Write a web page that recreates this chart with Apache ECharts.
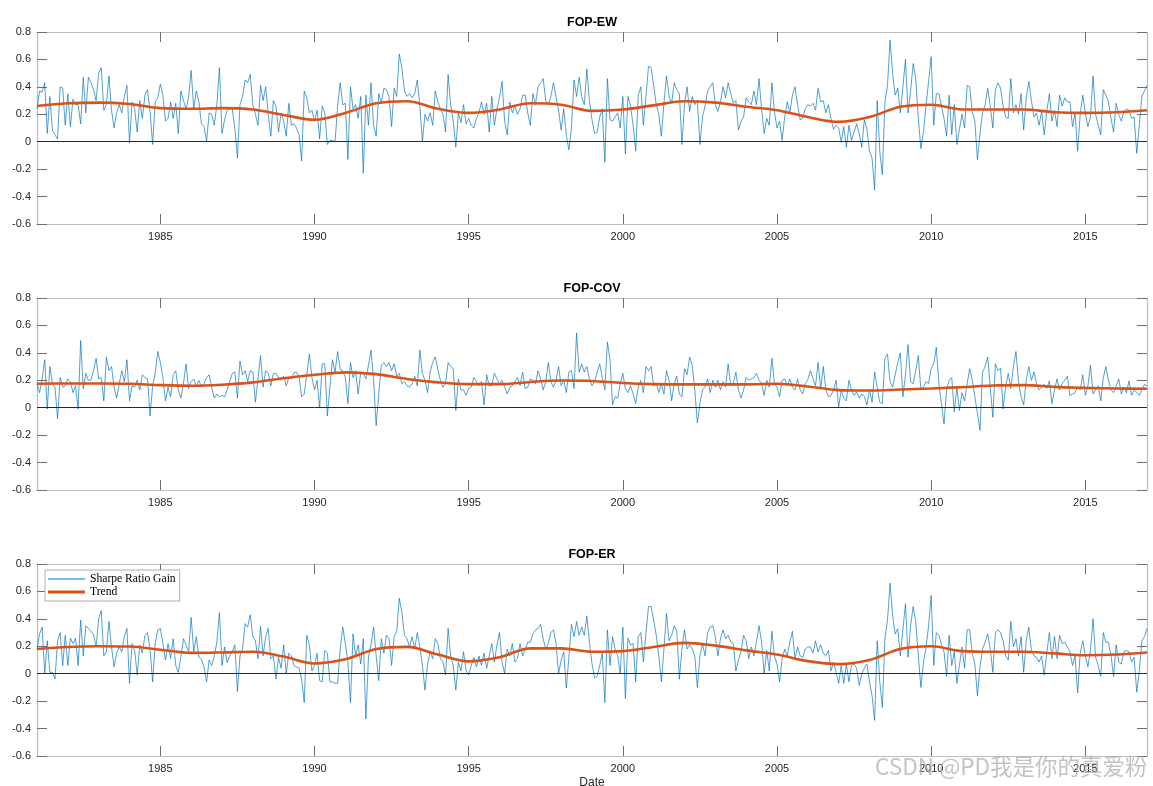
<!DOCTYPE html>
<html><head><meta charset="utf-8">
<script src="https://cdn.jsdelivr.net/npm/echarts@6/dist/echarts.min.js"></script>
<style>html,body{margin:0;padding:0;background:#fff}#c{width:1153px;height:786px}</style>
</head><body><div id="c"></div><script>
// ---- data (monthly values from Jan 1981 to Jan 2017) ----
const startYear = 1981;
const endYear = 2017;
const panelTitles = ['FOP-EW', 'FOP-COV', 'FOP-ER'];
const xTickLabels = [1985, 1990, 1995, 2000, 2005, 2010, 2015];
const seriesNames = ['Sharpe Ratio Gain', 'Trend'];

const ewGain = [
 0.24,0.37,0.36,0.43,0.06,0.33,0.085,0.05,0.02,0.40,0.39,0.12,
 0.35,0.11,0.31,0.27,0.27,0.13,0.47,0.21,0.47,0.43,0.38,0.30,
 0.50,0.54,0.23,0.27,0.48,0.23,0.10,0.21,0.27,0.21,0.33,0.41,
 -0.01,0.29,0.24,0.07,0.30,0.17,0.34,0.38,0.22,-0.02,0.29,0.32,
 0.42,0.34,0.15,0.17,0.29,0.17,0.28,0.06,0.37,0.30,0.24,0.32,
 0.52,0.24,0.37,0.29,0.13,0.11,0.00,0.21,0.20,0.12,0.27,0.54,
 0.06,0.16,0.23,0.24,0.24,0.10,-0.12,0.27,0.33,0.45,0.43,0.49,
 0.27,0.20,0.12,0.41,0.30,0.40,0.20,0.04,0.30,0.26,0.07,0.21,
 0.15,0.04,0.28,0.12,0.13,0.10,0.05,-0.14,0.37,0.32,0.21,0.23,
 0.15,0.23,0.02,0.26,0.21,-0.02,0.01,0.01,0.00,0.26,0.43,0.27,
 0.28,-0.13,0.40,0.24,0.27,0.17,0.33,-0.23,0.34,0.12,0.43,0.12,
 0.04,0.35,0.28,0.39,0.38,0.33,0.11,0.39,0.33,0.64,0.54,0.37,
 0.33,0.35,0.32,0.35,0.45,0.26,0.00,0.20,0.15,0.21,0.12,0.37,
 0.29,0.24,0.20,0.07,0.49,0.27,0.15,-0.04,0.21,0.14,0.27,0.13,
 0.17,0.12,0.10,0.17,0.21,0.29,0.20,0.28,0.07,0.33,0.12,0.24,
 0.32,0.44,0.15,0.05,0.29,0.21,0.26,0.20,0.24,0.34,0.34,0.21,
 0.12,0.35,0.27,0.40,0.43,0.46,0.30,0.27,0.33,0.43,0.33,0.23,
 0.085,0.24,0.05,-0.06,0.10,0.45,0.33,0.47,0.33,0.27,0.53,0.30,
 0.16,0.06,0.07,0.18,0.24,-0.15,0.46,0.16,0.15,0.18,0.21,0.10,
 0.33,-0.09,0.33,0.26,0.12,-0.07,0.34,0.40,0.12,0.33,0.55,0.54,
 0.41,0.27,0.20,0.04,0.28,0.48,0.33,0.28,0.43,0.38,0.35,-0.02,
 0.27,0.40,0.22,0.33,0.27,0.30,-0.02,0.18,0.26,0.37,0.40,0.43,
 0.27,0.22,0.29,0.40,0.32,0.43,0.35,0.28,0.30,0.085,0.15,0.18,
 0.32,0.29,0.27,0.37,0.27,0.46,0.24,0.06,0.17,0.12,0.43,0.22,
 0.10,0.15,0.01,0.18,0.29,0.21,0.34,0.40,0.27,0.16,0.17,0.24,
 0.27,0.26,0.28,0.23,0.39,0.29,0.30,0.21,0.27,0.17,0.09,0.12,
 0.10,-0.005,0.11,-0.04,0.12,0.01,0.07,0.13,0.06,-0.04,0.16,0.09,
 -0.07,-0.12,-0.35,0.30,-0.07,-0.24,0.29,0.41,0.74,0.50,0.34,0.39,
 0.21,0.40,0.60,0.21,0.37,0.57,0.46,0.17,-0.05,0.07,0.26,0.44,
 0.62,0.12,0.35,0.35,0.26,0.17,0.04,0.34,0.05,0.27,-0.02,0.09,
 0.20,0.10,0.41,0.40,0.22,0.15,-0.13,0.06,0.21,0.27,0.39,0.26,
 0.10,0.38,0.43,0.39,0.26,0.18,0.17,0.46,0.21,0.27,0.20,0.35,
 0.085,0.32,0.44,0.30,0.18,0.21,0.12,0.22,0.05,0.22,0.35,0.15,
 0.23,0.11,0.34,0.26,0.32,0.29,0.29,0.11,0.21,-0.07,0.20,0.34,
 0.21,0.11,0.18,0.48,0.20,0.12,0.05,0.38,0.34,0.29,0.17,0.07,
 0.28,0.20,0.15,0.22,0.24,0.23,0.17,0.18,-0.085,0.12,0.33,0.37,
 0.41
];

const covGain = [
 0.175,0.11,0.21,0.35,-0.01,0.30,0.175,0.15,-0.08,0.22,0.15,0.16,
 0.21,0.19,0.11,0.16,-0.01,0.49,0.14,0.25,0.20,0.20,0.27,0.36,
 0.21,0.22,0.05,0.37,0.27,0.30,0.15,0.07,0.175,0.27,0.19,0.35,
 0.05,0.16,0.15,0.20,0.13,0.24,0.22,0.21,-0.06,0.16,0.25,0.41,
 0.33,0.22,0.05,0.15,0.08,0.24,0.27,0.13,0.07,0.175,0.32,0.14,
 0.19,0.21,0.16,0.20,0.15,0.175,0.22,0.24,0.15,0.07,0.10,0.08,
 0.09,0.08,0.13,0.19,0.25,0.26,0.07,0.34,0.24,0.27,0.19,0.27,
 0.26,0.04,0.21,0.38,0.15,0.27,0.25,0.16,0.25,0.25,0.22,0.20,
 0.23,0.16,0.22,0.21,0.255,0.26,0.22,0.08,0.10,0.24,0.39,0.22,
 0.13,0.20,0.00,0.32,0.32,-0.06,0.15,0.35,0.26,0.41,0.28,0.27,
 0.22,0.03,0.33,0.22,0.27,0.10,0.26,0.25,0.21,0.31,0.42,0.20,
 -0.13,0.10,0.31,0.33,0.30,0.33,0.27,0.32,0.23,0.25,0.175,0.19,
 0.16,0.15,0.175,0.23,0.16,0.42,0.25,0.20,0.11,0.26,0.33,0.37,
 0.28,0.20,0.15,0.175,0.33,0.30,0.285,-0.02,0.21,0.13,0.13,0.09,
 0.14,0.15,0.22,0.19,0.16,0.19,0.02,0.24,0.16,0.16,0.25,0.21,
 0.175,0.20,0.15,0.10,0.15,0.16,0.19,0.22,0.16,0.26,0.14,0.15,
 0.21,0.20,0.175,0.27,0.21,0.13,0.19,0.33,0.19,0.15,0.20,0.30,
 0.16,0.20,0.11,0.26,0.27,0.14,0.545,0.26,0.32,0.26,0.30,0.21,
 0.16,0.19,0.26,0.32,0.22,0.13,0.48,0.35,0.02,0.08,0.07,0.175,
 0.25,0.14,0.11,0.16,0.10,0.03,0.15,0.20,0.11,0.30,0.27,0.30,
 0.16,0.18,0.11,0.175,0.10,0.27,0.20,0.05,0.175,0.23,0.10,0.08,
 0.285,0.24,0.37,0.31,0.13,-0.11,0.03,0.13,0.15,0.21,0.11,0.20,
 0.15,0.20,0.13,0.19,0.15,0.32,0.16,0.175,0.26,0.13,0.07,0.13,
 0.22,0.20,0.21,0.22,0.25,0.20,0.175,0.09,0.20,0.15,0.36,0.175,
 0.15,0.08,0.20,0.21,0.16,0.21,0.15,0.13,0.21,0.13,0.10,0.175,
 0.205,0.27,0.21,0.16,0.33,0.14,0.30,0.13,0.08,0.09,0.13,0.20,
 0.005,0.13,0.07,0.05,0.20,0.13,0.09,0.115,0.07,0.10,0.08,0.02,
 0.13,0.04,0.26,0.15,0.04,0.03,0.36,0.39,0.19,0.15,0.24,0.33,
 0.40,0.08,0.24,0.46,0.19,0.175,0.27,0.38,0.13,0.15,0.19,0.175,
 0.285,0.32,0.44,0.175,0.03,-0.12,0.13,0.20,0.22,-0.03,0.15,-0.02,
 0.11,0.05,0.175,0.285,0.20,0.08,-0.04,-0.165,0.26,0.30,0.37,0.15,
 -0.07,0.32,0.27,0.29,-0.01,0.16,0.25,0.14,0.30,0.41,0.19,0.08,
 0.02,0.20,0.30,0.20,0.26,0.175,0.13,0.15,0.17,0.14,0.195,0.03,
 0.13,0.21,0.13,0.175,0.20,0.23,0.09,0.10,0.11,0.15,0.13,0.24,
 0.09,0.16,0.31,0.10,0.13,0.16,0.05,0.22,0.30,0.20,0.13,0.11,
 0.16,0.21,0.10,0.15,0.11,0.195,0.09,0.13,0.11,0.09,0.13,0.17,
 0.16
];

const erGain = [
 0.18,0.29,0.34,0.00,0.24,0.01,0.01,-0.04,0.24,0.30,0.06,0.28,
 0.06,0.26,0.22,0.26,0.06,0.39,0.13,0.35,0.33,0.31,0.285,0.195,
 0.40,0.46,0.13,0.16,0.38,0.195,0.05,0.15,0.195,0.16,0.27,0.33,
 -0.07,0.22,0.17,-0.01,0.21,0.15,0.28,0.30,0.18,-0.06,0.22,0.32,
 0.33,0.22,0.10,0.22,0.11,0.255,0.06,0.01,0.12,0.255,0.21,0.16,
 0.41,0.16,0.27,0.12,0.105,0.05,-0.06,0.10,0.06,0.13,0.23,0.445,
 0.06,0.195,0.08,0.13,0.16,0.21,-0.13,0.13,0.18,0.365,0.34,0.43,
 0.27,0.24,0.11,0.345,0.13,0.27,0.33,0.11,0.13,-0.04,0.12,0.04,
 0.21,0.00,0.15,0.13,0.06,0.05,0.04,-0.04,-0.21,0.28,0.21,0.02,
 0.06,0.15,-0.05,-0.06,0.17,0.15,-0.06,-0.06,-0.07,-0.07,0.18,0.34,
 0.22,0.085,-0.21,0.29,0.13,0.21,0.07,0.255,-0.33,0.12,0.21,0.34,
 0.13,-0.05,0.255,0.15,0.28,0.255,0.06,0.27,0.31,0.55,0.45,0.28,
 0.255,0.195,0.27,0.18,0.30,0.195,0.06,-0.12,0.07,0.16,0.11,0.255,
 0.22,0.11,0.085,-0.01,0.33,0.13,0.06,-0.12,0.085,0.02,0.16,0.02,
 -0.01,0.06,0.12,0.05,0.13,0.06,0.15,0.04,0.13,0.22,0.085,0.21,
 0.30,0.085,0.00,0.18,0.13,0.22,0.085,0.11,0.22,0.13,0.17,0.23,
 0.23,0.29,0.32,0.33,0.36,0.255,0.18,0.22,0.30,0.32,0.22,0.00,
 0.10,0.16,-0.105,0.12,0.36,0.27,0.38,0.28,0.34,0.28,0.42,0.23,
 0.07,-0.03,-0.02,0.06,0.15,-0.21,0.32,0.06,0.27,0.18,0.13,0.00,
 0.34,-0.18,0.26,0.21,0.22,-0.06,0.27,0.30,0.085,0.30,0.49,0.49,
 0.39,0.28,0.13,-0.06,0.18,0.44,0.24,0.28,0.35,0.31,-0.04,0.18,
 0.32,0.18,0.21,0.18,0.13,-0.10,0.13,0.22,0.13,0.30,0.34,0.35,
 0.27,0.13,0.255,0.32,0.255,0.28,0.23,0.22,0.02,0.10,0.16,0.28,
 0.24,0.11,0.195,0.13,0.23,0.35,0.23,0.00,0.17,0.02,0.31,0.13,
 0.07,-0.06,0.11,0.18,0.13,0.23,0.31,0.11,0.195,0.13,0.12,0.18,
 0.195,0.195,0.15,0.24,0.16,0.21,0.15,0.13,0.17,0.02,0.085,0.01,
 -0.07,0.06,-0.07,0.07,-0.06,0.06,0.07,0.04,-0.085,0.00,0.04,0.07,
 -0.06,-0.16,-0.34,0.24,-0.06,-0.245,0.255,0.39,0.66,0.425,0.29,0.33,
 0.13,0.32,0.51,0.12,0.35,0.49,0.38,0.13,-0.10,0.085,0.19,0.35,
 0.57,0.06,0.30,0.28,0.21,0.16,-0.02,0.28,0.06,0.16,-0.07,0.06,
 0.195,0.04,0.32,0.32,0.15,0.07,-0.16,0.05,0.18,0.23,0.29,0.18,
 0.01,0.30,0.32,0.30,0.24,0.13,0.10,0.38,0.195,0.255,0.13,0.27,
 0.01,0.24,0.34,0.17,0.13,0.12,0.085,0.13,-0.01,0.15,0.30,0.11,
 0.27,0.11,0.28,0.22,0.23,0.195,0.16,0.06,0.13,-0.14,0.15,0.24,
 0.13,0.05,0.17,0.40,0.12,0.06,-0.02,0.30,0.23,0.23,0.13,-0.02,
 0.21,0.085,0.07,0.16,0.17,0.16,0.085,0.12,-0.135,0.02,0.24,0.27,
 0.33
];

// trend values, one per January from 1981 to 2017
const ewTrend = [0.26,0.28,0.285,0.275,0.245,0.24,0.245,0.235,0.195,0.16,0.21,0.28,0.295,0.24,0.21,0.235,0.28,0.27,0.225,0.235,0.265,0.295,0.285,0.255,0.23,0.18,0.145,0.18,0.255,0.27,0.235,0.235,0.235,0.215,0.21,0.215,0.23];
const covTrend = [0.175,0.177,0.177,0.175,0.165,0.16,0.168,0.185,0.215,0.24,0.258,0.245,0.21,0.185,0.172,0.172,0.188,0.198,0.195,0.18,0.172,0.17,0.17,0.17,0.175,0.155,0.128,0.125,0.133,0.14,0.15,0.162,0.165,0.152,0.145,0.14,0.138];
const erTrend = [0.18,0.195,0.20,0.198,0.175,0.152,0.155,0.16,0.125,0.075,0.105,0.18,0.196,0.14,0.09,0.12,0.185,0.185,0.16,0.165,0.195,0.225,0.205,0.17,0.14,0.092,0.07,0.10,0.18,0.20,0.165,0.16,0.16,0.148,0.135,0.14,0.155];

const gains = [ewGain, covGain, erGain];
const trends = [ewTrend, covTrend, erTrend];

// ---- layout / style ----
const panelTops = [32, 298, 564];
const plotH = 192, plotL = 37, plotR = 6;
const frameC = '#bdbdbd', tickC = '#6e6e6e', textC = '#262626';
const sans = 'Liberation Sans, Arial, Helvetica, sans-serif';
const gainColor = '#0072BD', trendColor = '#D95319';

const grid = [], xAxis = [], yAxis = [], series = [];
panelTops.forEach((top, k) => {
  grid.push({left: plotL, right: plotR, top: top, height: plotH});
  const xa = {gridIndex: k, type: 'value', min: startYear, max: endYear,
    splitLine: {show: false},
    axisLine: {show: true, onZero: false, lineStyle: {color: frameC, width: 1.2}},
    axisTick: {show: true, inside: true, length: 10, customValues: xTickLabels, lineStyle: {color: tickC, width: 1}}};
  xAxis.push(Object.assign({}, xa, {position: 'bottom',
    axisLabel: {show: true, customValues: xTickLabels, color: textC, fontSize: 11, fontFamily: sans, margin: 7,
      formatter: v => String(Math.round(v))}}));
  xAxis.push(Object.assign({}, xa, {position: 'top', axisLabel: {show: false}}));
  const ya = {gridIndex: k, type: 'value', min: -0.6, max: 0.8, interval: 0.2,
    splitLine: {show: false},
    axisLine: {show: true, onZero: false, lineStyle: {color: frameC, width: 1.2}},
    axisTick: {show: true, inside: true, length: 10, lineStyle: {color: tickC, width: 1}}};
  yAxis.push(Object.assign({}, ya, {position: 'left',
    axisLabel: {show: true, color: textC, fontSize: 11, fontFamily: sans, margin: 6,
      formatter: v => String(+(+v).toFixed(1))}}));
  yAxis.push(Object.assign({}, ya, {position: 'right', axisLabel: {show: false}}));

  series.push({type: 'line', name: seriesNames[0], xAxisIndex: 2 * k, yAxisIndex: 2 * k,
    data: gains[k].map((v, i) => [startYear + i / 12, v]),
    symbol: 'none', showSymbol: false,
    lineStyle: {color: gainColor, width: 0.75, opacity: 0.9}, itemStyle: {color: gainColor}, z: 2,
    markLine: {silent: true, symbol: 'none', label: {show: false}, animation: false,
      lineStyle: {color: '#262626', width: 1, type: 'solid', opacity: 1}, data: [{yAxis: 0}]}});
  series.push({type: 'line', name: seriesNames[1], xAxisIndex: 2 * k, yAxisIndex: 2 * k,
    data: trends[k].map((v, i) => [startYear + i, v]),
    symbol: 'none', showSymbol: false, smooth: 0.35,
    lineStyle: {color: trendColor, width: 2.6}, itemStyle: {color: trendColor}, z: 3});
});

const graphic = [];
panelTops.forEach((top, k) => {
  graphic.push({type: 'text', x: (plotL + 1153 - plotR) / 2, y: top - 9, z: 10,
    style: {text: panelTitles[k], fill: '#000', font: 'bold 12.5px ' + sans,
      textAlign: 'center', textVerticalAlign: 'middle'}});
});
graphic.push({type: 'text', x: (plotL + 1153 - plotR) / 2, y: 783, z: 10,
  style: {text: 'Date', fill: textC, font: '12px ' + sans, textAlign: 'center', textVerticalAlign: 'middle'}});
graphic.push({type: 'text', x: 875, y: 766, z: 100,
  style: {text: 'CSDN @PD我是你的真爱粉', fill: 'rgba(175,175,175,0.75)',
    font: '22.5px "Noto Sans CJK SC", sans-serif', textAlign: 'left', textVerticalAlign: 'middle'}});

// legend icons: plain line samples (tiny corner marks fix the icon box to 37x10)
const corners = ' M0,0L0.01,0L0,0.01Z M37,10L36.99,10L37,9.99Z';
const thinIcon = 'path://M0,4.6L37,4.6L37,5.4L0,5.4Z' + corners;
const thickIcon = 'path://M0,3.6L37,3.6L37,6.4L0,6.4Z' + corners;

const option = {
  animation: false,
  backgroundColor: '#fff',
  grid, xAxis, yAxis, series, graphic,
  legend: {data: [{name: seriesNames[0], icon: thinIcon}, {name: seriesNames[1], icon: thickIcon}],
    left: 45, top: 570, orient: 'vertical',
    backgroundColor: '#fff', borderColor: '#9a9a9a', borderWidth: 0.8, borderRadius: 0,
    padding: [3, 4, 3, 3], itemGap: 1, itemWidth: 37, itemHeight: 10,
    textStyle: {fontFamily: 'Liberation Serif, serif', fontSize: 11.6, color: '#000'}}
};
const chart = echarts.init(document.getElementById('c'), null, {renderer: 'canvas'});
chart.setOption(option);
</script></body></html>
